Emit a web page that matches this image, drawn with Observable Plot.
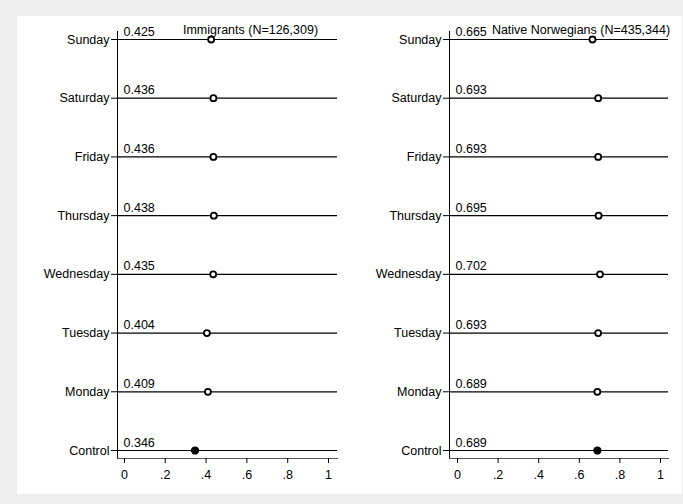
<!DOCTYPE html>
<html>
<head>
<meta charset="utf-8">
<script src="https://cdn.jsdelivr.net/npm/d3@7"></script>
<script src="https://cdn.jsdelivr.net/npm/@observablehq/plot@0.6"></script>
<style>
  html, body { margin: 0; padding: 0; background: #eeeeee; }
  #wrap { position: relative; width: 683px; height: 504px; background: #eeeeee; overflow: hidden; }
  #panel { position: absolute; left: 17px; top: 16px; width: 665px; height: 478px; background: #ffffff; }
  #left, #right { position: absolute; top: 0; }
  #left { left: 0; }
  #right { left: 340px; }
  svg { background: transparent !important; }
</style>
</head>
<body>
<div id="wrap">
  <div id="panel"></div>
  <div id="left"></div>
  <div id="right"></div>
</div>
<script>
const days = ["Sunday", "Saturday", "Friday", "Thursday", "Wednesday", "Tuesday", "Monday", "Control"];
const immigrantValues = [0.425, 0.436, 0.436, 0.438, 0.435, 0.404, 0.409, 0.346];
const nativeValues = [0.665, 0.693, 0.693, 0.695, 0.702, 0.693, 0.689, 0.689];
const immigrantTitle = "Immigrants (N=126,309)";
const nativeTitle = "Native Norwegians (N=435,344)";
const xTicks = [0, 0.2, 0.4, 0.6, 0.8, 1];
const xTickLabels = ["0", ".2", ".4", ".6", ".8", "1"];

function makeData(values) {
  return days.map((d, i) => ({day: d, value: values[i], control: d === "Control"}));
}

function panel(values, title, opts) {
  const data = makeData(values);
  const fs = 12.5;
  return Plot.plot({
    width: opts.width,
    height: 494,
    marginLeft: opts.marginLeft,
    marginRight: opts.marginRight,
    marginTop: 31,
    marginBottom: 36,
    style: {fontFamily: "'Liberation Sans', Arial, Helvetica, sans-serif", fontSize: fs + "px", color: "#000", background: "transparent"},
    x: {domain: opts.xDomain},
    y: {type: "point", domain: days, padding: 0, round: false, insetTop: 8, insetBottom: 8},
    marks: [
      Plot.frame({anchor: "left", stroke: "#000", strokeWidth: 1}),
      Plot.frame({anchor: "bottom", stroke: "#555", strokeWidth: 1}),
      Plot.ruleY(data, {y: "day", stroke: "#000", strokeWidth: 1.2}),
      Plot.axisY({tickSize: 6, tickPadding: 2, label: null, stroke: "#000", fontSize: fs}),
      Plot.axisX({ticks: xTicks, tickFormat: (d) => xTickLabels[xTicks.indexOf(d)], tickSize: 5, tickPadding: 7, label: null, stroke: "#000", fontSize: fs}),
      Plot.text(data, {y: "day", text: d => d.value.toFixed(3), frameAnchor: "left", textAnchor: "start", lineAnchor: "bottom", dx: 6, dy: -4, fill: "#000", fontSize: fs}),
      Plot.dot(data, {x: "value", y: "day", r: d => d.control ? 3 : 2.6, stroke: "#000", strokeWidth: 1.8, fill: d => d.control ? "#000" : "#fff"}),
      Plot.text([title], {text: d => d, frameAnchor: "top", lineAnchor: "bottom", dx: opts.titleDx, dy: 2, fill: "#000", fontSize: fs})
    ]
  });
}

document.getElementById("left").appendChild(panel(immigrantValues, immigrantTitle, {
  width: 340, marginLeft: 117, marginRight: 3, xDomain: [-0.034, 1.044], titleDx: 23
}));
document.getElementById("right").appendChild(panel(nativeValues, nativeTitle, {
  width: 343, marginLeft: 109, marginRight: 15, xDomain: [-0.0394, 1.0394], titleDx: 22
}));
</script>
</body>
</html>
